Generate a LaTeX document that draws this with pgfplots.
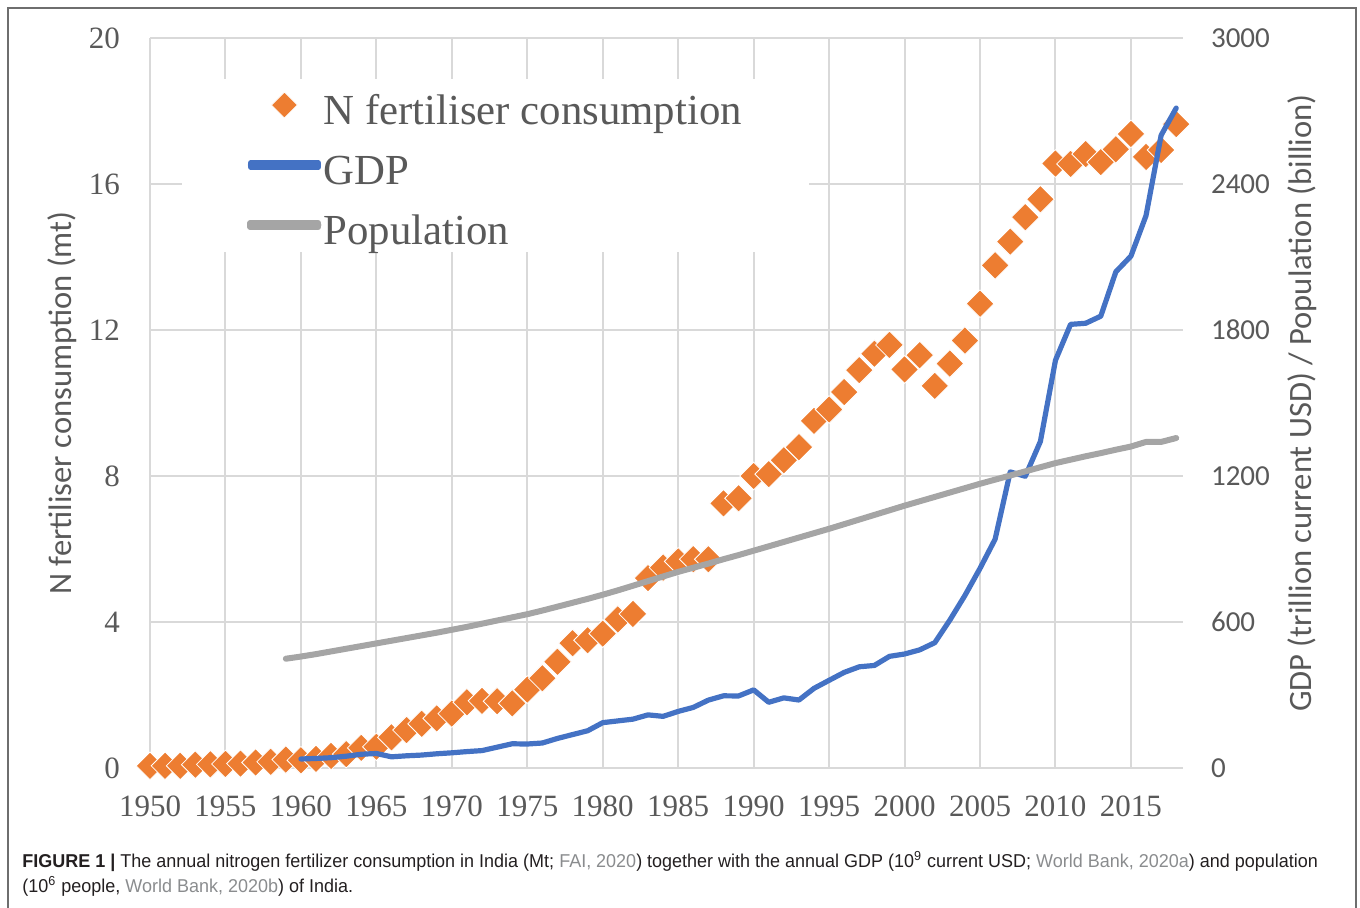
\documentclass[border=0pt]{standalone}
\usepackage{pgfplots}
\pgfplotsset{compat=1.18}
\usepackage{fontspec}
\setmainfont{Liberation Serif}
\newfontfamily\calibri{Carlito}
\newfontfamily\capfont[FakeStretch=0.967]{Liberation Sans}

\definecolor{forange}{HTML}{ED7D31}
\definecolor{gdpblue}{HTML}{4472C4}
\definecolor{popgray}{HTML}{A5A5A5}
\definecolor{gridgray}{HTML}{D9D9D9}
\definecolor{tickgray}{HTML}{595959}
\definecolor{bordergray}{HTML}{6E6E6E}
\definecolor{captext}{HTML}{231F20}
\definecolor{citegray}{HTML}{8A8C8E}

% fertiliser consumption (mt)
\pgfplotstableread{
year val
1950 0.06
1951 0.06
1952 0.06
1953 0.09
1954 0.10
1955 0.11
1956 0.12
1957 0.15
1958 0.17
1959 0.23
1960 0.21
1961 0.25
1962 0.33
1963 0.38
1964 0.55
1965 0.58
1966 0.84
1967 1.04
1968 1.21
1969 1.36
1970 1.49
1971 1.80
1972 1.84
1973 1.83
1974 1.77
1975 2.15
1976 2.46
1977 2.91
1978 3.42
1979 3.50
1980 3.68
1981 4.07
1982 4.22
1983 5.20
1984 5.49
1985 5.66
1986 5.72
1987 5.72
1988 7.25
1989 7.39
1990 8.00
1991 8.05
1992 8.43
1993 8.79
1994 9.51
1995 9.82
1996 10.30
1997 10.90
1998 11.35
1999 11.59
2000 10.92
2001 11.31
2002 10.47
2003 11.08
2004 11.71
2005 12.72
2006 13.77
2007 14.42
2008 15.09
2009 15.58
2010 16.56
2011 16.55
2012 16.82
2013 16.60
2014 16.95
2015 17.37
2016 16.74
2017 16.93
2018 17.64
}\fert

% GDP (billion current USD)
\pgfplotstableread{
year val
1960 37.0
1961 39.2
1962 42.2
1963 48.4
1964 56.5
1965 59.6
1966 45.9
1967 50.1
1968 53.1
1969 58.4
1970 62.4
1971 67.4
1972 71.5
1973 85.5
1974 99.5
1975 98.5
1976 102.7
1977 121.5
1978 137.3
1979 153.0
1980 186.3
1981 193.5
1982 200.7
1983 218.3
1984 212.2
1985 232.5
1986 249.0
1987 279.0
1988 296.6
1989 296.0
1990 321.0
1991 270.1
1992 288.2
1993 279.3
1994 327.3
1995 360.3
1996 392.9
1997 415.9
1998 421.4
1999 458.8
2000 468.4
2001 485.4
2002 514.9
2003 607.7
2004 709.1
2005 820.4
2006 940.3
2007 1216.7
2008 1198.9
2009 1341.9
2010 1675.6
2011 1823.1
2012 1827.6
2013 1856.7
2014 2039.1
2015 2103.6
2016 2270
2017 2600
2018 2712
}\gdp

% population (million)
\pgfplotstableread{
year val
1959 449
1960 458
1961 468
1962 479
1963 490
1964 501
1965 512
1966 523
1967 534
1968 545
1969 556
1970 568
1971 580
1972 593
1973 606
1974 619
1975 632
1976 647
1977 663
1978 679
1979 695
1980 712
1981 730
1982 749
1983 768
1984 787
1985 806
1986 823
1987 840
1988 858
1989 875
1990 893
1991 911
1992 929
1993 947
1994 965
1995 983
1996 1002
1997 1021
1998 1040
1999 1059
2000 1078
2001 1096
2002 1114
2003 1132
2004 1150
2005 1168
2006 1185
2007 1202
2008 1219
2009 1236
2010 1253
2011 1267
2012 1281
2013 1294
2014 1308
2015 1321
2016 1340
2017 1340
2018 1356
}\pop

\pgfplotsset{
  base/.style={
    at={(75pt,70pt)}, anchor=south west,
    width=516.5pt, height=365pt, scale only axis,
    xmin=1950, xmax=2018.45,
    axis line style={draw=none},
    major tick length=0pt,
    /pgf/number format/assume math mode=true,
    /pgf/number format/1000 sep={},
  },
  diamonds/.style={only marks, mark=square*, mark size=4.9pt,
    mark options={rotate=45, fill=forange, draw=white, line width=0.4pt}},
}
\newcommand\ls{\rule[-8pt]{0pt}{29pt}}

\begin{document}
\begin{tikzpicture}
\useasboundingbox (0,0) rectangle (680pt,454pt);
\draw[bordergray, line width=0.8pt] (4pt,-2pt) -- (4pt,450pt) -- (678pt,450pt) -- (678pt,-2pt);

\begin{axis}[base,
  ymin=0, ymax=20,
  xtick={1950,1955,...,2015},
  ytick={0,4,...,20},
  xmajorgrids, ymajorgrids,
  grid style={gridgray, line width=1pt},
  tick label style={font=\fontsize{15.5}{18}\selectfont, text=tickgray},
  xticklabel style={yshift=-10.5pt},
  yticklabel style={xshift=-11.5pt},
  ylabel={N fertiliser consumption (mt)},
  every axis y label/.style={at={(axis description cs:-0.0852,0.5)}, rotate=90, anchor=center,
    font=\calibri\fontsize{16.3}{19}\selectfont, text=tickgray},
]
\addplot[diamonds] table[x=year, y=val] {\fert};
\end{axis}

\begin{axis}[base,
  ymin=0, ymax=3000,
  xtick=\empty,
  ytick={0,600,...,3000},
  yticklabel pos=right,
  yticklabel style={font=\calibri\fontsize{14.5}{17}\selectfont, text=tickgray, xshift=10.5pt},
  ylabel={GDP (trillion current USD) / Population (billion)},
  every axis y label/.style={at={(axis description cs:1.1152,0.5)}, rotate=90, anchor=center,
    font=\calibri\fontsize{16.3}{19}\selectfont, text=tickgray},
  legend style={at={(axis description cs:0.031,0.945)}, anchor=north west,
    draw=none, fill=white, inner xsep=32.5pt, inner ysep=1pt,
    font=\fontsize{21.4}{25}\selectfont, text=tickgray,
    row sep=5.5pt, nodes={inner sep=1pt}},
  legend cell align=left,
  legend image code/.code={
    \path (0pt,-1pt) rectangle (34pt,1pt);
    \draw[mark repeat=2, mark phase=2, #1] plot coordinates {(0pt,0pt) (17pt,0pt) (34pt,0pt)};},
]
\addlegendimage{white, line width=0.4pt, mark=square*, mark size=4.6pt,
  mark options={rotate=45, fill=forange, draw=white, line width=0.4pt}}
\addlegendentry{\ls N fertiliser consumption}
\addplot[gdpblue, line width=2.6pt, line cap=round, line join=round, mark=none] table[x=year, y=val] {\gdp};
\addlegendentry{\ls GDP}
\addplot[popgray, line width=3pt, line cap=round, line join=round, mark=none] table[x=year, y=val] {\pop};
\addlegendentry{\ls Population}
\end{axis}

\node[anchor=base west, align=left, inner sep=0pt, text=captext,
  font=\capfont\fontsize{9.3}{12.5}\selectfont] at (11pt,7.5pt)
  {\textbf{FIGURE 1 |} The annual nitrogen fertilizer consumption in India (Mt; \textcolor{citegray}{FAI, 2020}) together with the annual GDP (10\textsuperscript{9} current USD; \textcolor{citegray}{World Bank, 2020a}) and population\\
  (10\textsuperscript{6} people, \textcolor{citegray}{World Bank, 2020b}) of India.};
\end{tikzpicture}
\end{document}
